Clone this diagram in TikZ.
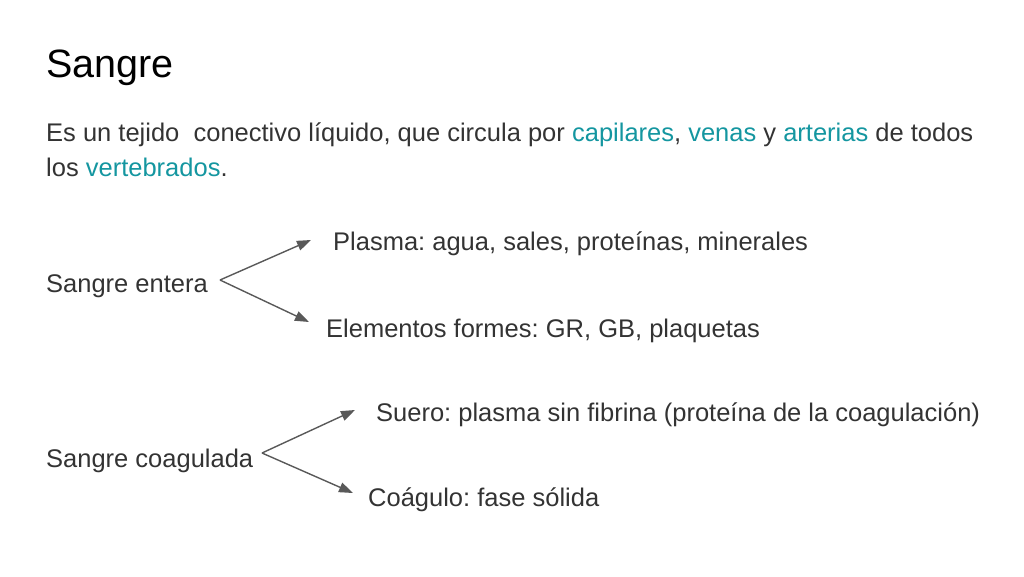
\documentclass[tikz,border=0pt]{standalone}
\usepackage{fontspec}
\setmainfont{Liberation Sans}
\usetikzlibrary{arrows.meta}
\definecolor{teal2}{RGB}{20,150,160}
\begin{document}
\frenchspacing
\begin{tikzpicture}[x=1pt,y=-1pt,
  txt/.style={anchor=base west,inner sep=0pt,text=black!80,font=\fontsize{25.5}{30}\selectfont},
  ttl/.style={anchor=base west,inner sep=0pt,text=black,font=\fontsize{39.5}{46}\selectfont},
  arr/.style={draw=black!65,line width=1.4pt,-{Triangle[length=14pt,width=10pt]}}]
\useasboundingbox (0,0) rectangle (1024,576);
\node[ttl] (title) at (46,77) {Sangre};
\node[txt] (l1) at (46,141) {Es un tejido\ \ conectivo líquido, que circula por \textcolor{teal2}{capilares}, \textcolor{teal2}{venas} y \textcolor{teal2}{arterias} de todos};
\node[txt] (l2) at (46,176) {los \textcolor{teal2}{vertebrados}.};
\node[txt] (se) at (46,292) {Sangre entera};
\node[txt] (pl) at (333,250) {Plasma: agua, sales, proteínas, minerales};
\node[txt] (el) at (326,337) {Elementos formes: GR, GB, plaquetas};
\node[txt] (sc) at (46,467) {Sangre coagulada};
\node[txt] (su) at (376,421) {Suero: plasma sin fibrina (proteína de la coagulación)};
\node[txt] (co) at (368,506) {Coágulo: fase sólida};
\coordinate (o1) at (220,280);
\coordinate (o2) at (262,453);
\draw[arr] (o1) -- (311,240);
\draw[arr] (o1) -- (309,322);
\draw[arr] (o2) -- (355,410);
\draw[arr] (o2) -- (353,493);
\end{tikzpicture}
\end{document}
